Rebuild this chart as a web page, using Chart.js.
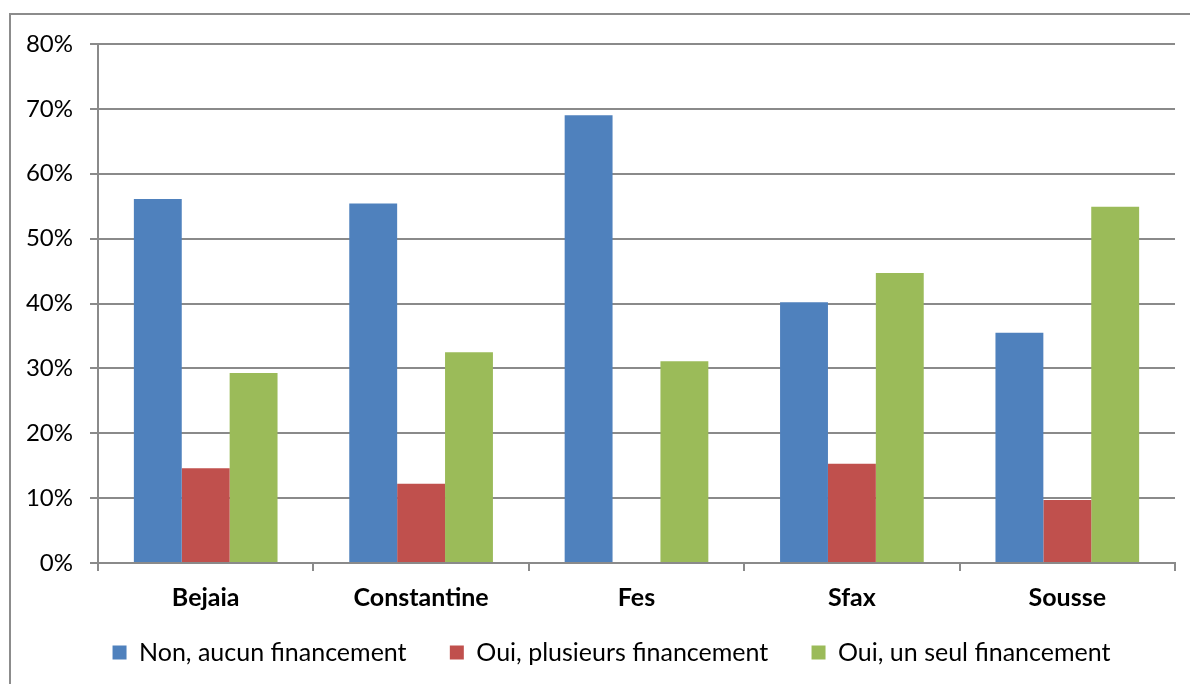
<!DOCTYPE html>
<html lang="fr">
<head>
    <meta charset="UTF-8">
    <title>Financement</title>
    <script src="https://cdn.jsdelivr.net/npm/chart.js"></script>
    <style>
        html, body { margin: 0; padding: 0; background: #fff; }
        #wrap { position: relative; width: 1190px; height: 684px; }
    </style>
</head>
<body>
    <div id="wrap"><canvas id="chart" width="1190" height="684"></canvas></div>

    <script>
        // Données (%)
        const villes = ['Bejaia', 'Constantine', 'Fes', 'Sfax', 'Sousse'];
        const nonAucun = [56.1, 55.4, 69.0, 40.2, 35.5];
        const ouiPlusieurs = [14.6, 12.2, 0, 15.3, 9.7];
        const ouiUnSeul = [29.3, 32.5, 31.1, 44.7, 54.9];
        const yTicks = [0, 10, 20, 30, 40, 50, 60, 70, 80];

        // Cadre extérieur (gris, gauche + haut)
        const cadre = {
            id: 'cadre',
            beforeDraw(chart) {
                const ctx = chart.ctx;
                ctx.save();
                ctx.strokeStyle = '#8c8c8c';
                ctx.lineWidth = 2;
                ctx.beginPath();
                ctx.moveTo(10, chart.height);
                ctx.lineTo(10, 14);
                ctx.lineTo(chart.width, 14);
                ctx.stroke();
                ctx.restore();
            }
        };

        // décale un peu la légende vers la droite (centrée sous la zone du graphique)
        const decaleLegende = {
            id: 'decaleLegende',
            afterLayout(chart) {
                if (chart.legend) chart.legend.left += 48;
            }
        };

        const gris = '#8a8a8a';
        const espace = '\u2003\u2002';

        new Chart(document.getElementById('chart'), {
            type: 'bar',
            data: {
                labels: villes,
                datasets: [
                    { label: 'Non, aucun financement', data: nonAucun, backgroundColor: '#4F81BD' },
                    { label: 'Oui, plusieurs financement', data: ouiPlusieurs, backgroundColor: '#C0504D' },
                    { label: 'Oui, un seul financement', data: ouiUnSeul, backgroundColor: '#9BBB59' }
                ]
            },
            options: {
                responsive: false,
                animation: false,
                datasets: { bar: { categoryPercentage: 0.667, barPercentage: 1.0 } },
                layout: { padding: { left: 0, right: 15, top: 44, bottom: 9 } },
                plugins: {
                    tooltip: { enabled: false },
                    legend: {
                        position: 'bottom',
                        labels: {
                            font: { family: 'Lato', size: 25 },
                            color: '#000',
                            boxWidth: 14,
                            boxHeight: 14,
                            padding: 12,
                            generateLabels(chart) {
                                const items = Chart.defaults.plugins.legend.labels.generateLabels(chart);
                                items.forEach((it, i) => {
                                    it.lineWidth = 0;
                                    if (i < items.length - 1) it.text = it.text + espace;
                                });
                                return items;
                            }
                        }
                    }
                },
                scales: {
                    x: {
                        afterFit(axis) { axis.height = 65; },
                        grid: {
                            drawOnChartArea: false,
                            drawTicks: true,
                            tickLength: 8,
                            color: gris,
                            lineWidth: 2
                        },
                        border: { color: gris, width: 2 },
                        ticks: {
                            padding: 12,
                            color: '#000',
                            font: { family: 'Lato', size: 25, weight: 'bold' }
                        }
                    },
                    y: {
                        min: 0,
                        max: 80,
                        afterFit(axis) { axis.width = 98; },
                        afterBuildTicks(axis) { axis.ticks = yTicks.map(v => ({ value: v })); },
                        grid: {
                            color: gris,
                            lineWidth: 2,
                            tickLength: 8
                        },
                        border: { color: gris, width: 2 },
                        ticks: {
                            padding: 17,
                            color: '#000',
                            font: { family: 'Lato', size: 24 },
                            callback: v => v + '%'
                        }
                    }
                }
            },
            plugins: [cadre, decaleLegende]
        });
    </script>
</body>
</html>
